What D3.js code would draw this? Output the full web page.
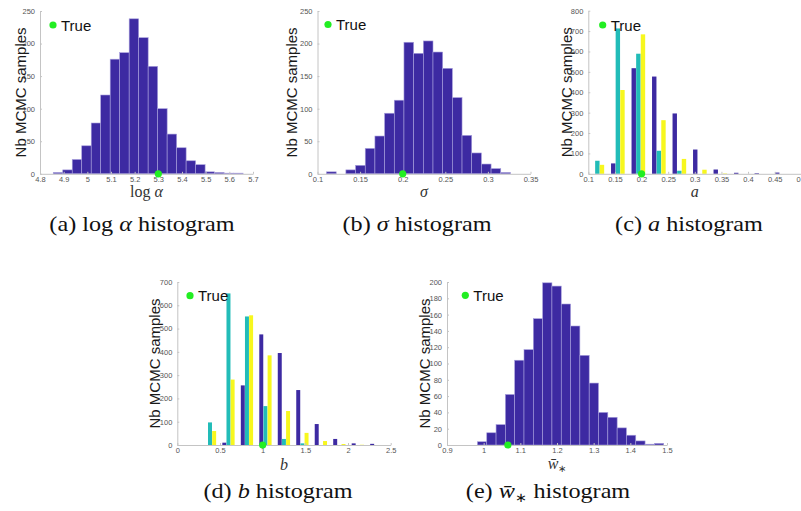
<!DOCTYPE html>
<html>
<head>
<meta charset="utf-8">
<script src="https://cdn.jsdelivr.net/npm/d3@7"></script>
<style>
  body { margin: 0; background: #fff; }
  svg { display: block; }
</style>
</head>
<body>
<svg id="fig" width="801" height="511"></svg>
<script>
// ---------- posterior sample counts ----------
// (a) log alpha: equal-width bins
const logAlphaBinStart = 4.856;
const logAlphaBinWidth = 0.0401;
const logAlphaCounts = [2, 6, 22, 43, 78, 121, 176, 186, 238, 209, 165, 100, 61, 40, 20, 14, 3, 2, 1, 1];
const logAlphaTrue = 5.3;
const logAlphaXTicks = [4.8, 4.9, 5, 5.1, 5.2, 5.3, 5.4, 5.5, 5.6, 5.7];
const logAlphaYTicks = [0, 50, 100, 150, 200, 250];

// (b) sigma
const sigmaBinStart = 0.1106;
const sigmaBinWidth = 0.01136;
const sigmaCounts = [3, 0, 6, 13, 39, 58, 93, 113, 202, 185, 204, 187, 162, 117, 59, 32, 15, 8, 2];
const sigmaTrue = 0.2;
const sigmaXTicks = [0.1, 0.15, 0.2, 0.25, 0.3, 0.35];
const sigmaYTicks = [0, 50, 100, 150, 200, 250];

// (c) a: three chains, grouped per bin centre
const aCenters = [0.117, 0.1555, 0.194, 0.2325, 0.271, 0.3095, 0.348, 0.3865, 0.425, 0.4635];
const aChain1 = [0, 51, 518, 477, 296, 119, 21, 5, 3, 6];
const aChain2 = [64, 713, 589, 113, 15, 0, 0, 0, 0, 0];
const aChain3 = [44, 411, 684, 263, 73, 20, 2, 0, 0, 0];
const aTrue = 0.2;
const aXTicks = [0.1, 0.15, 0.2, 0.25, 0.3, 0.35, 0.4, 0.45, 0.5];
const aYTicks = [0, 100, 200, 300, 400, 500, 600, 700, 800];

// (d) b: three chains, grouped per bin centre
const bCenters = [0.383, 0.5995, 0.816, 1.0325, 1.249, 1.4655, 1.682, 1.8985, 2.115, 2.3315];
const bChain1 = [0, 10, 256, 475, 395, 236, 90, 26, 7, 5];
const bChain2 = [97, 651, 552, 167, 26, 7, 0, 0, 0, 0];
const bChain3 = [60, 281, 557, 385, 146, 52, 17, 4, 1, 0];
const bTrue = 1.0;
const bXTicks = [0, 0.5, 1, 1.5, 2, 2.5];
const bYTicks = [0, 100, 200, 300, 400, 500, 600, 700];

// (e) mean w*
const wBinStart = 0.983;
const wBinWidth = 0.0254;
const wCounts = [4, 15, 25, 62, 104, 117, 155, 199, 195, 173, 146, 110, 76, 40, 34, 21, 12, 5, 1, 2];
const wTrue = 1.066;
const wXTicks = [0.9, 1, 1.1, 1.2, 1.3, 1.4, 1.5];
const wYTicks = [0, 20, 40, 60, 80, 100, 120, 140, 160, 180, 200];

// ---------- styling ----------
const BLUE = "#3d2aa2";
const CYAN = "#22bcb8";
const YELLOW = "#f7f71e";
const GREEN = "#22ee22";
const EDGE = "#a79fdc";
const AXIS = "#c4c4c4";
const TICKTEXT = "#555";
const SANS = "'Liberation Sans', Arial, Helvetica, sans-serif";
const SERIF = "'Liberation Serif', 'Times New Roman', serif";

const svg = d3.select("#fig");
const fmt = d3.format("~g");

function histogramBars(start, width, counts) {
  return (g, x, y) => {
    const bins = counts.map((c, i) => ({ c, x0: start + i * width, x1: start + (i + 1) * width }))
      .filter(d => d.c > 0);
    g.append("g").selectAll("rect").data(bins).join("rect")
      .attr("x", d => x(d.x0))
      .attr("width", d => x(d.x1) - x(d.x0))
      .attr("y", d => y(d.c))
      .attr("height", d => y(0) - y(d.c))
      .attr("fill", BLUE)
      .attr("stroke", EDGE)
      .attr("stroke-width", 0.6);
  };
}

function groupedBars(centers, chains, colors) {
  return (g, x, y) => {
    const step = centers[1] - centers[0];
    const slot = 0.225 * step, bw = 0.215 * step;
    chains.forEach((vals, s) => {
      const pts = vals.map((v, i) => ({ v, c: centers[i] + (s - 1) * slot })).filter(d => d.v > 0);
      g.append("g").selectAll("rect").data(pts).join("rect")
        .attr("x", d => x(d.c - bw / 2))
        .attr("width", d => x(d.c + bw / 2) - x(d.c - bw / 2))
        .attr("y", d => y(d.v))
        .attr("height", d => y(0) - y(d.v))
        .attr("fill", colors[s]);
    });
  };
}

function addMath(textSel, parts) {
  parts.forEach(p => {
    const t = textSel.append("tspan").text(p.t);
    if (p.it) t.attr("font-style", "italic");
    if (p.sub) t.attr("font-size", p.sub).attr("dy", p.dy);
  });
}

function panel(cfg) {
  const x = d3.scaleLinear().domain(cfg.xDomain).range([cfg.left, cfg.right]);
  const y = d3.scaleLinear().domain(cfg.yDomain).range([cfg.bottom, cfg.top]);
  const g = svg.append("g");

  cfg.bars(g, x, y);

  const xa = g.append("g").attr("transform", `translate(0,${cfg.bottom})`)
    .call(d3.axisBottom(x).tickValues(cfg.xTicks).tickFormat(fmt)
      .tickSizeInner(-2).tickSizeOuter(0).tickPadding(3));
  const ya = g.append("g").attr("transform", `translate(${cfg.left},0)`)
    .call(d3.axisLeft(y).tickValues(cfg.yTicks).tickFormat(fmt)
      .tickSizeInner(-2).tickSizeOuter(0).tickPadding(5));
  [xa, ya].forEach(a => {
    a.select(".domain").attr("stroke", AXIS).attr("stroke-width", 1);
    a.selectAll(".tick line").attr("stroke", AXIS);
    a.selectAll(".tick text").attr("fill", TICKTEXT)
      .style("font-family", SANS).style("font-size", "7.5px");
  });

  // true value marker on the x axis
  g.append("circle").attr("cx", x(cfg.trueVal)).attr("cy", y(0)).attr("r", 3.6).attr("fill", GREEN);

  // legend
  g.append("circle").attr("cx", cfg.legX).attr("cy", cfg.legY).attr("r", 3.6).attr("fill", GREEN);
  g.append("text").attr("x", cfg.legX + 8).attr("y", cfg.legY + 5.5)
    .style("font-family", SANS).style("font-size", "15px").attr("fill", "#111").text("True");

  // y label
  g.append("text")
    .attr("transform", `translate(${cfg.yLabelX + 5.5},${(cfg.top + cfg.bottom) / 2}) rotate(-90)`)
    .attr("text-anchor", "middle")
    .style("font-family", SANS).style("font-size", "15px").attr("fill", "#1a1a1a")
    .text("Nb MCMC samples");

  // x label
  const xl = g.append("text").attr("x", (cfg.left + cfg.right) / 2).attr("y", cfg.xLabelY)
    .attr("text-anchor", "middle")
    .style("font-family", SERIF).style("font-size", "16px").attr("fill", "#333");
  addMath(xl, cfg.xLabel);

  // caption
  const cap = svg.append("text")
    .attr("transform", `translate(${cfg.capX},${cfg.capY}) scale(1.1,1)`)
    .attr("text-anchor", "middle")
    .style("font-family", SERIF).style("font-size", "22px").attr("fill", "#111");
  addMath(cap, cfg.caption);
}

panel({
  left: 40, right: 253, top: 11, bottom: 173.8,
  xDomain: [4.8, 5.7], yDomain: [0, 250],
  xTicks: logAlphaXTicks, yTicks: logAlphaYTicks,
  bars: histogramBars(logAlphaBinStart, logAlphaBinWidth, logAlphaCounts),
  trueVal: logAlphaTrue, legX: 53, legY: 25, yLabelX: 20, xLabelY: 197,
  xLabel: [{ t: "log " }, { t: "α", it: true }],
  capX: 142, capY: 231,
  caption: [{ t: "(a) log " }, { t: "α", it: true }, { t: " histogram" }]
});

panel({
  left: 317.5, right: 530.5, top: 11, bottom: 173.8,
  xDomain: [0.1, 0.35], yDomain: [0, 250],
  xTicks: sigmaXTicks, yTicks: sigmaYTicks,
  bars: histogramBars(sigmaBinStart, sigmaBinWidth, sigmaCounts),
  trueVal: sigmaTrue, legX: 328, legY: 24.5, yLabelX: 291.5, xLabelY: 197,
  xLabel: [{ t: "σ", it: true }],
  capX: 417, capY: 231,
  caption: [{ t: "(b) " }, { t: "σ", it: true }, { t: " histogram" }]
});

panel({
  left: 588.3, right: 801.3, top: 10.7, bottom: 173.8,
  xDomain: [0.1, 0.5], yDomain: [0, 800],
  xTicks: aXTicks, yTicks: aYTicks,
  bars: groupedBars(aCenters, [aChain1, aChain2, aChain3], [BLUE, CYAN, YELLOW]),
  trueVal: aTrue, legX: 602.7, legY: 25, yLabelX: 566, xLabelY: 197,
  xLabel: [{ t: "a", it: true }],
  capX: 689, capY: 231,
  caption: [{ t: "(c) " }, { t: "a", it: true }, { t: " histogram" }]
});

panel({
  left: 177.3, right: 390.7, top: 282, bottom: 445,
  xDomain: [0, 2.5], yDomain: [0, 700],
  xTicks: bXTicks, yTicks: bYTicks,
  bars: groupedBars(bCenters, [bChain1, bChain2, bChain3], [BLUE, CYAN, YELLOW]),
  trueVal: bTrue, legX: 190, legY: 295.7, yLabelX: 154, xLabelY: 470,
  xLabel: [{ t: "b", it: true }],
  capX: 278, capY: 498,
  caption: [{ t: "(d) " }, { t: "b", it: true }, { t: " histogram" }]
});

panel({
  left: 447, right: 667, top: 282, bottom: 445,
  xDomain: [0.9, 1.5], yDomain: [0, 200],
  xTicks: wXTicks, yTicks: wYTicks,
  bars: histogramBars(wBinStart, wBinWidth, wCounts),
  trueVal: wTrue, legX: 465.3, legY: 295.3, yLabelX: 424, xLabelY: 468.5,
  xLabel: [{ t: "w\u0304", it: true }, { t: "∗", sub: "10px", dy: "3" }],
  capX: 548, capY: 498,
  caption: [{ t: "(e) " }, { t: "w\u0304", it: true }, { t: "∗", sub: "13px", dy: "4" },
            { t: " histogram", sub: "22px", dy: "-4" }]
});
</script>
</body>
</html>
